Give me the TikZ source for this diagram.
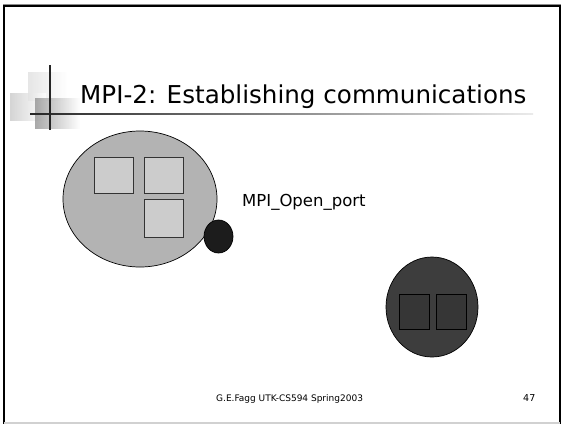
\documentclass[tikz,border=0pt]{standalone}
\usepackage{fontspec}
\setmainfont{DejaVu Sans}
\usetikzlibrary{shapes.geometric}

\definecolor{hostgray}{HTML}{B3B3B3}
\definecolor{procgray}{HTML}{CCCCCC}
\definecolor{portblack}{HTML}{1C1C1C}
\definecolor{remotegray}{HTML}{3D3D3D}
\definecolor{remoteproc}{HTML}{363636}

\tikzset{
  blob/.style={ellipse, draw=black, line width=0.7pt, inner sep=0pt},
  proc/.style={rectangle, draw=black!80, line width=0.7pt, inner sep=0pt, anchor=north west},
  fadebox/.style={draw=none, fill opacity=0.75},
}

\begin{document}
\begin{tikzpicture}[x=1pt,y=-1pt]
\useasboundingbox (0,0) rectangle (564,424);
\fill[white] (0,0) rectangle (564,424);

% slide frame
\draw[black!45, line width=1pt] (3,4) -- (561,4);
\draw[black, line width=2pt] (3,6) -- (561,6);
\draw[black, line width=2.5pt] (4,5) -- (4,424);
\draw[black, line width=2pt] (560,5) -- (560,424);
\draw[black!18, line width=1.2pt] (4,423) -- (560,423);

% title ornament: faded squares and cross lines
\shade[fadebox, left color=black!13, right color=white] (28,72) rectangle (67,100);
\shade[fadebox, left color=black!22, right color=white] (10,93) rectangle (46,120);
\shade[fadebox, left color=black!45, right color=white] (35,98) rectangle (80,128);
\shade[left color=black!85, right color=black!8] (30,113.2) rectangle (533,114.8);
\draw[black!85, line width=1.3pt] (50,65) -- (50,130);

% title
\node[anchor=base west, inner sep=0pt, font=\fontsize{24.6}{29}\selectfont] (title) at (80,103) {MPI-2: Establishing communications};

% local process group with its port
\node[blob, fill=hostgray, minimum width=154, minimum height=136] (host) at (140,199) {};
\node[proc, fill=procgray, minimum width=39, minimum height=36] (p1) at (94,157) {};
\node[proc, fill=procgray, minimum width=39, minimum height=36] (p2) at (144,157) {};
\node[proc, fill=procgray, minimum width=39, minimum height=38] (p3) at (144,199) {};
\node[blob, fill=portblack, minimum width=29, minimum height=33] (port) at (218.5,236.5) {};
\node[anchor=base west, inner sep=0pt, font=\fontsize{16.5}{19}\selectfont] (portlabel) at (242,206) {MPI\_Open\_port};

% remote process group
\node[blob, fill=remotegray, minimum width=92, minimum height=100] (remote) at (432,307) {};
\node[proc, fill=remoteproc, draw=black, minimum width=30, minimum height=35] (r1) at (399,294) {};
\node[proc, fill=remoteproc, draw=black, minimum width=30, minimum height=35] (r2) at (436,294) {};

% footer
\node[anchor=base west, inner sep=0pt, font=\fontsize{9}{11}\selectfont] (footer) at (216,401) {G.E.Fagg UTK-CS594 Spring2003};
\node[anchor=base west, inner sep=0pt, font=\fontsize{9.5}{11}\selectfont] (pageno) at (523,401) {47};
\end{tikzpicture}
\end{document}
